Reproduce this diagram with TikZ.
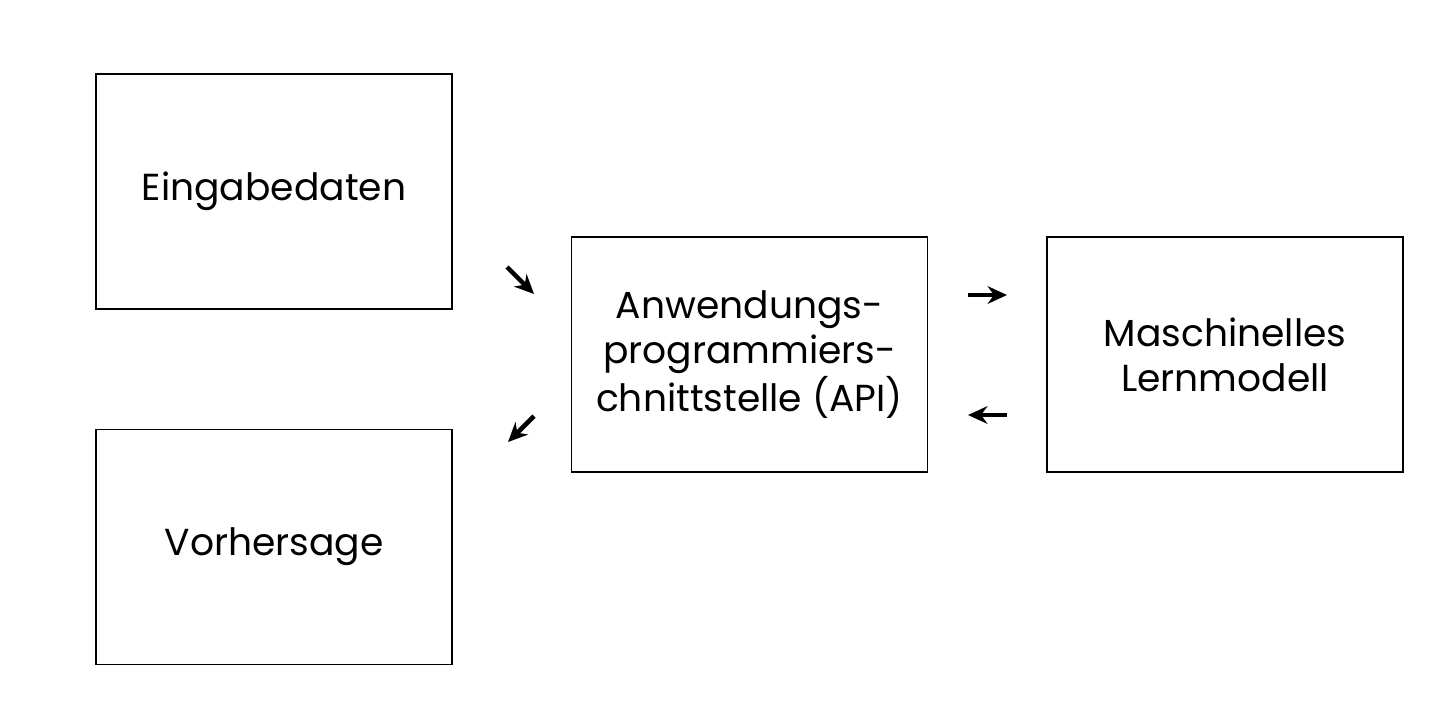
\documentclass[tikz,border=0pt]{standalone}
\usepackage{fontspec}
\setmainfont{Poppins}
\usetikzlibrary{arrows.meta}
\begin{document}
\begin{tikzpicture}[x=0.01cm,y=-0.01cm,
  box/.style={draw, line width=0.5pt, minimum width=3.56cm, minimum height=2.35cm, align=center, font=\fontsize{10.7}{12.8}\selectfont},
  arr/.style={line width=1.3pt, -{Stealth[length=5.5pt,width=5pt]}}]
\useasboundingbox (0,0) rectangle (1440,720);
\node[box] (ein) at (274,191.5) {Eingabedaten};
\node[box] (vor) at (274,547) {Vorhersage};
\node[box] (api) at (749.5,354.5) {Anwendungs-\\programmiers-\\chnittstelle (API)};
\node[box] (ml) at (1225,354.5) {Maschinelles\\Lernmodell};
\coordinate (a1) at (507,267); \coordinate (a2) at (534,294);
\coordinate (b1) at (534,416); \coordinate (b2) at (508,442);
\coordinate (c1) at (968,295); \coordinate (c2) at (1007,295);
\coordinate (d1) at (1007,415); \coordinate (d2) at (968,415);
\draw[arr] (a1) -- (a2);
\draw[arr] (b1) -- (b2);
\draw[arr] (c1) -- (c2);
\draw[arr] (d1) -- (d2);
\end{tikzpicture}
\end{document}
